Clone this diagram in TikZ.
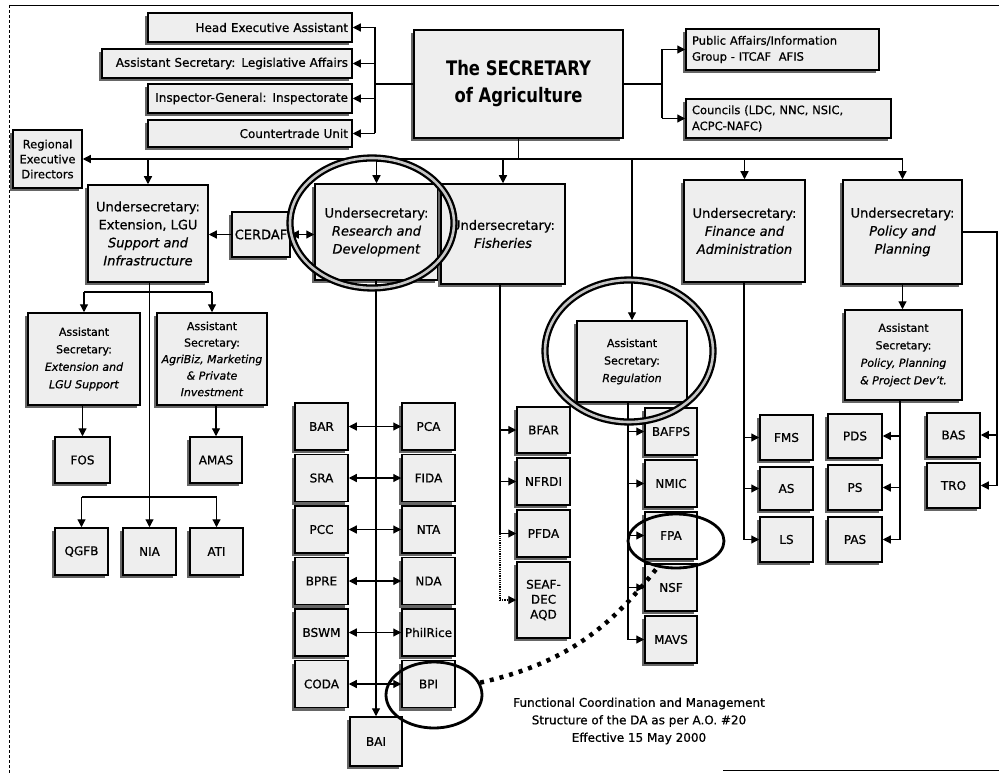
\documentclass[tikz,border=0pt]{standalone}
\usepackage{fontspec}
\setmainfont{DejaVu Sans}[FakeBold=0.7]
\newfontfamily\secfont[FakeStretch=0.82]{DejaVu Sans}
\usetikzlibrary{arrows.meta,shadows,shapes.geometric}
\tikzset{
 box/.style={draw, line width=1.5pt, fill=gray!13, inner sep=1pt, align=center,
   drop shadow={shadow xshift=-3pt, shadow yshift=-3pt, fill=black!60, opacity=1}},
 small/.style={font=\fontsize{12}{14}\selectfont},
 under/.style={font=\fontsize{13}{18}\selectfont},
 asec/.style={font=\fontsize{11}{17.5}\selectfont},
 topbox/.style={font=\fontsize{12}{13}\selectfont, align=right, inner xsep=4pt},
 conn/.style={line width=1.2pt},
 tip/.tip={Triangle[length=8pt,width=8pt]},
 arr/.style={conn, -tip},
 ringtwo/.style={ellipse, draw, line width=2.3pt, double=gray!45, double distance=2.6pt, inner sep=0pt},
 ringone/.style={ellipse, draw, line width=2.8pt, inner sep=0pt},
}
\newcommand{\mkbox}[7][]{\node[box, minimum width={(#5)-(#3)}, minimum height={(#6)-(#4)}, #1] (#2) at ({((#3)+(#5))/2},{((#4)+(#6))/2}) {#7};}
\begin{document}
\begin{tikzpicture}[x=1pt,y=-1pt]
\useasboundingbox (0,0) rectangle (999,773);
\fill[white] (0,0) rectangle (999,773);
% frame
\draw[line width=0.8pt] (9,5) -- (999,5);
\draw[line width=0.8pt, densely dashed] (9,5) -- (9,773);
\draw[line width=0.8pt] (723,770) -- (999,770);

% top boxes
\mkbox[topbox, text width=196pt]{hea}{148}{13}{352}{42}{Head Executive Assistant}
\mkbox[topbox, text width=242pt]{asla}{102}{49}{352}{78}{Assistant Secretary: Legislative Affairs}
\mkbox[topbox, text width=196pt]{igi}{148}{84}{352}{113}{Inspector-General: Inspectorate}
\mkbox[topbox, text width=196pt]{ctu}{148}{120}{352}{147}{Countertrade Unit}
\mkbox[font=\secfont\fontsize{20}{27}\selectfont\bfseries]{sec}{414}{30}{623}{138}{The SECRETARY\\of Agriculture}
\mkbox[font=\fontsize{11.5}{16}\selectfont, align=left, text width=181pt, inner xsep=6pt]{paig}{686}{29}{879}{70}{Public Affairs/Information\\Group - ITCAF \ AFIS}
\mkbox[font=\fontsize{11.5}{16}\selectfont, align=left, text width=193pt, inner xsep=6pt]{cnc}{686}{99}{891}{138}{Councils (LDC, NNC, NSIC,\\ACPC-NAFC)}

% second level
\mkbox[font=\fontsize{11.5}{15}\selectfont]{red}{13}{130}{82}{188}{Regional\\Executive\\Directors}
\mkbox[under]{ext}{88}{185}{208}{282}{Undersecretary:\\Extension, LGU\\\textit{Support and}\\\textit{Infrastructure}}
\mkbox[under]{cerdaf}{232}{212}{290}{257}{CERDAF}
\mkbox[under]{rd}{315}{184}{438}{280}{Undersecretary:\\\textit{Research and}\\\textit{Development}}
\mkbox[under]{fis}{441}{184}{565}{284}{Undersecretary:\\\textit{Fisheries}}
\mkbox[under]{fin}{684}{180}{805}{282}{Undersecretary:\\\textit{Finance and}\\\textit{Administration}}
\mkbox[under]{pol}{843}{180}{962}{284}{Undersecretary:\\\textit{Policy and}\\\textit{Planning}}

% assistant secretaries
\mkbox[asec]{reg}{577}{321}{687}{402}{Assistant\\Secretary:\\\textit{Regulation}}
\mkbox[asec]{aspol}{845}{310}{962}{400}{Assistant\\Secretary:\\\textit{Policy, Planning}\\\textit{\& Project Dev't.}}
\mkbox[asec]{asext}{28}{313}{140}{405}{Assistant\\Secretary:\\\textit{Extension and}\\\textit{LGU Support}}
\mkbox[font=\fontsize{11}{16.5}\selectfont]{asagri}{157}{313}{267}{405}{Assistant\\Secretary:\\\textit{AgriBiz, Marketing}\\\textit{\& Private}\\\textit{Investment}}

% extension subs
\mkbox[small]{fos}{55}{437}{110}{483}{FOS}
\mkbox[small]{amas}{190}{437}{242}{483}{AMAS}
\mkbox[small]{qgfb}{55}{528}{108}{575}{QGFB}
\mkbox[small]{nia}{123}{528}{176}{575}{NIA}
\mkbox[small]{ati}{190}{528}{243}{575}{ATI}

% R&D attached agencies
\foreach \ln/\lt/\rn/\rt [count=\i from 0] in {bar/BAR/pca/PCA, sra/SRA/fida/FIDA, pcc/PCC/nta/NTA, bpre/BPRE/nda/NDA, bswm/BSWM/philrice/PhilRice, coda/CODA/bpi/BPI}{
  \pgfmathsetmacro\ya{403+51.5*\i}
  \pgfmathsetmacro\yb{\ya+47}
  \mkbox[small]{\ln}{295}{\ya}{348}{\yb}{\lt}
  \mkbox[small]{\rn}{402}{\ya}{455}{\yb}{\rt}
}
\mkbox[small]{bai}{350}{717}{402}{766}{BAI}

% fisheries subs
\mkbox[small]{bfar}{517}{407}{570}{453}{BFAR}
\mkbox[small]{nfrdi}{517}{458}{570}{505}{NFRDI}
\mkbox[small]{pfda}{517}{510}{570}{557}{PFDA}
\mkbox[font=\fontsize{12}{15}\selectfont]{seaf}{517}{562}{570}{638}{SEAF-\\DEC\\AQD}

% regulation subs
\mkbox[small]{bafps}{645}{408}{697}{455}{BAFPS}
\mkbox[small]{nmic}{645}{460}{697}{507}{NMIC}
\mkbox[small]{fpa}{645}{512}{697}{559}{FPA}
\mkbox[small]{nsf}{645}{564}{697}{611}{NSF}
\mkbox[small]{mavs}{645}{616}{697}{663}{MAVS}

% finance subs
\mkbox[small]{fms}{760}{415}{813}{460}{FMS}
\mkbox[small]{asx}{760}{467}{813}{510}{AS}
\mkbox[small]{lsx}{760}{517}{813}{562}{LS}

% policy subs
\mkbox[small]{pdsx}{828}{414}{882}{458}{PDS}
\mkbox[small]{psx}{828}{465}{882}{510}{PS}
\mkbox[small]{pasx}{828}{517}{882}{562}{PAS}
\mkbox[small]{bas}{927}{413}{980}{457}{BAS}
\mkbox[small]{tro}{927}{463}{980}{508}{TRO}

% ---------- connectors ----------
% top-left staff
\coordinate (tlv) at (375,0);
\draw[conn] (tlv |- hea.east) -- (tlv |- ctu.east);
\draw[conn] (sec.west) -- (tlv |- sec.west);
\foreach \n in {hea,asla,igi,ctu} \draw[arr] (tlv |- \n.east) -- (\n.east);
% top-right staff
\coordinate (trv) at (662,0);
\draw[conn] (sec.east) -- (trv |- sec.east);
\draw[conn] (trv |- paig.west) -- (trv |- cnc.west);
\foreach \n in {paig,cnc} \draw[arr] (trv |- \n.west) -- (\n.west);
% main bus
\draw[conn] (sec.south) -- (sec.south |- red.east);
\draw[arr] (pol.north |- red.east) -- (red.east);
\foreach \n in {ext,rd,fis,reg,fin,pol} \draw[arr] (\n.north |- red.east) -- (\n.north);
% CERDAF
\draw[arr] (cerdaf.west) -- (cerdaf.west -| ext.east);
\draw[conn, tip-tip] (cerdaf.east) -- (cerdaf.east -| rd.west);
% extension branch
\coordinate (eb) at (0,292);
\draw[conn] (asext.north |- eb) -- (asagri.north |- eb);
\draw[arr] (asext.north |- eb) -- (asext.north);
\draw[arr] (asagri.north |- eb) -- (asagri.north);
\draw[arr] (ext.south -| nia.north) -- (nia.north);
\draw[arr] (asext.south -| fos.north) -- (fos.north);
\draw[arr] (asagri.south -| amas.north) -- (amas.north);
\coordinate (qb) at (0,497);
\draw[conn] (qgfb.north |- qb) -- (ati.north |- qb);
\draw[arr] (qgfb.north |- qb) -- (qgfb.north);
\draw[arr] (ati.north |- qb) -- (ati.north);
% R&D branch
\coordinate (rdv) at (376,0);
\draw[arr] (rdv |- rd.south) -- (rdv |- bai.north);
\foreach \ln/\rn in {bar/pca,sra/fida,pcc/nta,bpre/nda,bswm/philrice,coda/bpi}{
  \draw[arr] (rdv |- \ln.east) -- (\ln.east);
  \draw[arr] (rdv |- \rn.west) -- (\rn.west);
}
% fisheries branch
\coordinate (fisv) at (500,0);
\draw[conn] (fisv |- fis.south) -- (fisv |- pfda.west);
\foreach \n in {bfar,nfrdi,pfda} \draw[arr] (fisv |- \n.west) -- (\n.west);
\draw[conn, densely dotted] (fisv |- pfda.west) -- (fisv |- seaf.west);
\draw[arr, densely dotted] (fisv |- seaf.west) -- (seaf.west);
% regulation branch
\coordinate (regv) at (628,0);
\draw[conn] (regv |- reg.south) -- (regv |- mavs.west);
\foreach \n in {bafps,nmic,fpa,nsf,mavs} \draw[arr] (regv |- \n.west) -- (\n.west);
% finance branch
\coordinate (finv) at (744,0);
\draw[conn] (finv |- fin.south) -- (finv |- lsx.west);
\foreach \n in {fms,asx,lsx} \draw[arr] (finv |- \n.west) -- (\n.west);
% policy branch
\draw[arr] (pol.south) -- (pol.south |- aspol.north);
\coordinate (aspv) at (900,0);
\draw[conn] (aspv |- aspol.south) -- (aspv |- pasx.east);
\foreach \n in {pdsx,psx,pasx} \draw[arr] (aspv |- \n.east) -- (\n.east);
\coordinate (prx) at (997,0);
\draw[conn] (pol.east) -- (prx |- pol.east) -- (prx |- tro.east);
\foreach \n in {bas,tro} \draw[arr] (prx |- \n.east) -- (\n.east);

% caption
\node[font=\fontsize{12}{17.5}\selectfont, align=center] (cap) at (639,721) {Functional Coordination and Management\\Structure of the DA as per A.O. \#20\\Effective 15 May 2000};

% highlight rings
\node[ringtwo, minimum width=164pt, minimum height=130pt] (rdring) at (372,223) {};
\node[ringtwo, minimum width=168pt, minimum height=142pt] (regring) at (629,351) {};
\node[ringone, minimum width=96pt, minimum height=54pt] (fparing) at (676,541) {};
\node[ringone, minimum width=96pt, minimum height=66pt] (bpiring) at (434,695) {};
\draw[line width=4.5pt, dash pattern=on 4pt off 6pt] (bpiring.15) .. controls (572,662) and (614,622) .. (fparing.235);
\end{tikzpicture}
\end{document}
